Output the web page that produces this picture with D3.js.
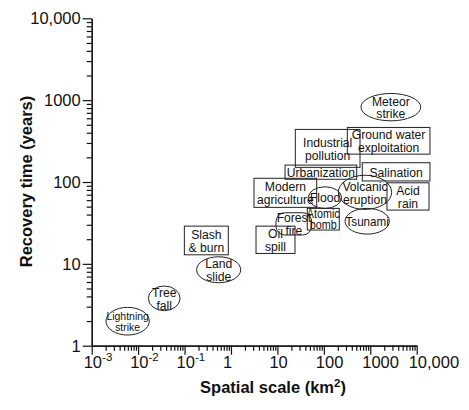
<!DOCTYPE html>
<html><head><meta charset="utf-8">
<script src="https://cdn.jsdelivr.net/npm/d3@7"></script>
<style>body{margin:0;background:#fff}svg{display:block}</style>
</head><body>
<script>
// ---- data (areas in km², times in years) ----
const events = ["Lightning\nstrike","Tree\nfall","Land\nslide","Slash\n& burn","Oil\nspill","Forest\nfire","Atomic\nbomb","Tsunami","Modern\nagriculture","Flood","Volcanic\neruption","Acid\nrain","Salination","Urbanization","Industrial\npollution","Ground water\nexploitation","Meteor\nstrike"];
const shapes = ["ellipse","ellipse","ellipse","rect","rect","round","rect","ellipse","rect","ellipse","ellipse","rect","rect","rect","rect","rect","ellipse"];
const areaMin = [0.00203,0.0166,0.182,0.099,3.46,9.31,44.0,286,3.13,46.2,205,2290,673,14.6,24.3,320,631];
const areaMax = [0.0174,0.080,1.62,0.875,23.9,54.7,215,2570,70.2,242,2890,18400,19300,510,601,19300,12200];
const timeMin = [1.35,2.68,5.88,12.9,13.4,22.5,25.9,23.1,49.0,47.6,46.3,45.4,103,108,151,219,559];
const timeMax = [2.94,5.36,12.2,28.9,28.9,42.1,47.6,47.6,111,87.4,121,97.8,172,161,439,464,1207];
const xTicks = [1e-3,1e-2,1e-1,1,10,100,1000,10000];
const xTickLabels = [["10","-3"],["10","-2"],["10","-1"],["1"],["10"],["100"],["1000"],["10,000"]];
const yTicks = [1,10,100,1000,10000];
const yTickLabels = ["1","10","100","1000","10,000"];

const W=469,H=410;
const FONT = "'Liberation Sans', Arial, Helvetica, sans-serif";
const svg = d3.select("body").append("svg").attr("width",W).attr("height",H)
  .style("font-family",FONT);
const x = d3.scaleLog().domain([1e-3,1e4]).range([91.7,416.7]);
const y = d3.scaleLog().domain([1,1e4]).range([345.7,18.3]);

const minor = (lo,hi)=>{const a=[];for(let d=lo;d<hi;d++)for(let k=2;k<=9;k++)a.push(k*Math.pow(10,d));return a;};

function styleAxis(g){
  g.selectAll("path,line").attr("stroke","#111").attr("stroke-width",1.2);
  g.selectAll("text").remove();
}
// X axis
svg.append("g").attr("transform",`translate(0,${y(1)})`)
  .call(d3.axisBottom(x).tickValues(minor(-3,4)).tickSize(5).tickSizeOuter(0)).call(styleAxis);
svg.append("g").attr("transform",`translate(0,${y(1)})`)
  .call(d3.axisBottom(x).tickValues(xTicks).tickSize(9).tickSizeOuter(0)).call(styleAxis);
// Y axis
svg.append("g").attr("transform",`translate(${x(1e-3)},0)`)
  .call(d3.axisLeft(y).tickValues(minor(0,4)).tickSize(5).tickSizeOuter(0)).call(styleAxis);
svg.append("g").attr("transform",`translate(${x(1e-3)},0)`)
  .call(d3.axisLeft(y).tickValues(yTicks).tickSize(9).tickSizeOuter(0)).call(styleAxis);

// X tick labels
xTicks.forEach((t,i)=>{
  const tx = svg.append("text").attr("x",x(t)-8).attr("y",y(1)+22)
    .attr("font-size",16.5).attr("fill","#111");
  tx.append("tspan").text(xTickLabels[i][0]);
  if(xTickLabels[i][1]) tx.append("tspan").attr("dy",-6.5).attr("font-size",11.5).text(xTickLabels[i][1]);
});
// Y tick labels
yTicks.forEach((t,i)=>{
  svg.append("text").attr("x",x(1e-3)-11).attr("y",y(t)).attr("dy","0.36em")
    .attr("text-anchor","end").attr("font-size",16.5).attr("fill","#111").text(yTickLabels[i]);
});
// Axis titles
const xt = svg.append("text").attr("x",273).attr("y",393).attr("text-anchor","middle")
  .attr("font-size",16.5).attr("font-weight","bold").attr("fill","#111");
xt.append("tspan").text("Spatial scale (km");
xt.append("tspan").attr("dy",-6.5).attr("font-size",11.5).text("2");
xt.append("tspan").attr("dy",6.5).text(")");
svg.append("text").attr("transform","translate(26,181.5) rotate(-90)").attr("dy","0.36em")
  .attr("text-anchor","middle").attr("font-size",16.5).attr("font-weight","bold").attr("fill","#111")
  .text("Recovery time (years)");

// Event shapes
const marks = svg.append("g");
events.forEach((lab,i)=>{
  const x0=x(areaMin[i]), x1=x(areaMax[i]), y0=y(timeMax[i]), y1=y(timeMin[i]);
  const w=x1-x0, h=y1-y0, cx=(x0+x1)/2, cy=(y0+y1)/2;
  if(shapes[i]==="ellipse"){
    marks.append("ellipse").attr("cx",cx).attr("cy",cy).attr("rx",w/2).attr("ry",h/2)
      .attr("fill","none").attr("stroke","#222").attr("stroke-width",1);
  } else {
    marks.append("rect").attr("x",x0).attr("y",y0).attr("width",w).attr("height",h)
      .attr("rx",shapes[i]==="round"?h*0.4:0)
      .attr("fill","none").attr("stroke","#222").attr("stroke-width",1);
  }
  const lines = lab.split("\n");
  const sx = 0.9;
  let fs = 13.5;
  const t = marks.append("text").attr("text-anchor","middle").attr("fill","#111").attr("font-size",fs);
  const spans = lines.map(l=>t.append("tspan").attr("x",0).text(l));
  let maxW = d3.max(spans,s=>s.node().getComputedTextLength())*sx;
  const avail = shapes[i]==="ellipse" ? w*0.98 : w+1;
  if(maxW>avail) fs = fs*avail/maxW;
  t.attr("font-size",fs);
  const L = fs*0.95;
  spans.forEach((s,j)=>s.attr("y",(j-(lines.length-1)/2)*L+0.36*fs));
  t.attr("transform",`translate(${cx},${cy}) scale(${sx},1)`);
});
</script>
</body></html>
